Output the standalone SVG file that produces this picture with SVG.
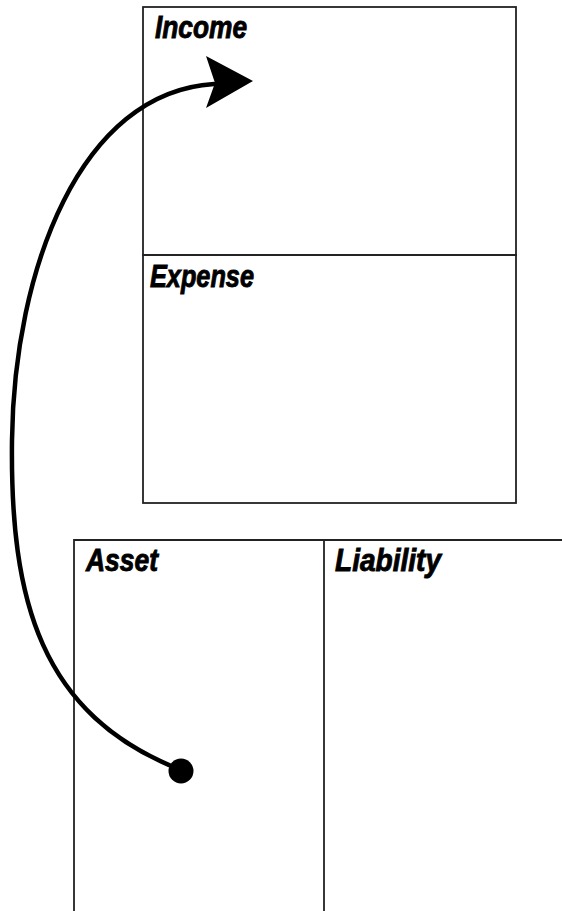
<svg xmlns="http://www.w3.org/2000/svg" width="562" height="911" viewBox="0 0 562 911">
<style>
.box{fill:none;stroke:#222;stroke-width:1.8}
.lbl{font-family:"Liberation Sans",Arial,sans-serif;font-weight:bold;font-style:italic;font-size:31px;fill:#000;stroke:#000;stroke-width:0.9}
.flow{fill:none;stroke:#000;stroke-width:4.5;stroke-linecap:round}
</style>
<rect width="562" height="911" fill="#fff"/>
<g id="income">
<rect class="box" x="143" y="7" width="373" height="248"/>
<text class="lbl" x="155" y="38" textLength="92" lengthAdjust="spacingAndGlyphs">Income</text>
</g>
<g id="expense">
<rect class="box" x="143" y="255" width="373" height="248"/>
<text class="lbl" x="150" y="287" textLength="104" lengthAdjust="spacingAndGlyphs">Expense</text>
</g>
<g id="asset">
<path class="box" d="M74,913 V540 H324 V913"/>
<text class="lbl" x="86" y="571" textLength="72" lengthAdjust="spacingAndGlyphs">Asset</text>
</g>
<g id="liability">
<path class="box" d="M324,540 H564"/>
<text class="lbl" x="335" y="571" textLength="106" lengthAdjust="spacingAndGlyphs">Liability</text>
</g>
<g id="connectors">
<path class="flow" d="M181,770 C40,715 10,600 12,440 C14,270 80,92 214,84"/>
<polygon points="253,81 206,56 215,83 206,108" fill="#000"/>
<circle cx="181" cy="771" r="12.5" fill="#000"/>
</g>
</svg>
